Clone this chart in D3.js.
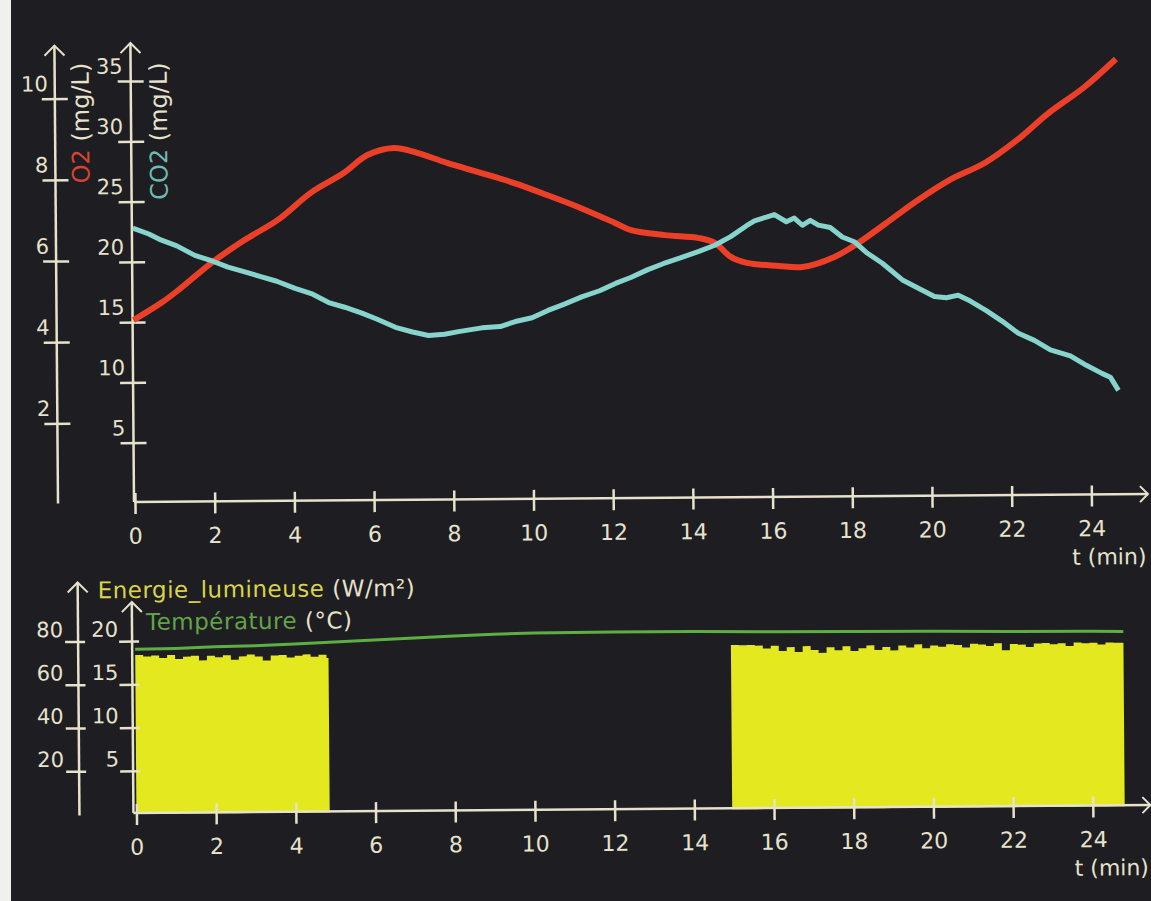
<!DOCTYPE html>
<html>
<head>
<meta charset="utf-8">
<script src="https://cdn.jsdelivr.net/npm/d3@7"></script>
<style>
  body { margin: 0; background: #1e1d22; }
  svg { display: block; }
</style>
</head>
<body>
<div id="canvas"></div>
<script>
"use strict"

/* Data */
let timeTicks = [0, 2, 4, 6, 8, 10, 12, 14, 16, 18, 20, 22, 24];
let o2Ticks = [2, 4, 6, 8, 10];
let co2Ticks = [5, 10, 15, 20, 25, 30, 35];
let lightTicks = [20, 40, 60, 80];
let tempTicks = [5, 10, 15, 20];

let o2Time = [0, 0.7, 1.13, 1.96, 2.8, 3.64, 4.47, 5.3, 5.9, 6.57, 7.07, 7.9, 8.74, 9.58, 10.4, 11.25, 12.1, 12.5, 13.35, 14.2, 14.6, 15.0, 15.4, 16.2, 16.8, 17.6, 18.2, 18.9, 19.7, 20.5, 21.4, 22.2, 23.0, 23.9, 24.7];
let o2Values = [4.53, 4.95, 5.26, 5.92, 6.48, 6.97, 7.63, 8.11, 8.55, 8.72, 8.62, 8.34, 8.09, 7.83, 7.53, 7.20, 6.83, 6.65, 6.52, 6.44, 6.32, 5.97, 5.82, 5.74, 5.71, 5.95, 6.29, 6.77, 7.33, 7.82, 8.24, 8.79, 9.45, 10.08, 10.77];

let co2Time = [0, 0.4, 0.7, 1.1, 1.55, 2.0, 2.38, 2.8, 3.2, 3.6, 4.06, 4.5, 4.9, 5.3, 5.73, 6.1, 6.57, 7.0, 7.4, 7.8, 8.15, 8.74, 9.2, 9.58, 10.0, 10.4, 10.8, 11.25, 11.7, 12.1, 12.5, 12.9, 13.3, 13.75, 14.2, 14.6, 15.0, 15.4, 15.6, 15.9, 16.1, 16.4, 16.6, 16.8, 17.0, 17.2, 17.5, 17.8, 18.1, 18.4, 18.8, 19.3, 19.7, 20.1, 20.4, 20.7, 21.0, 21.4, 21.8, 22.2, 22.6, 23.0, 23.5, 23.9, 24.3, 24.5, 24.7];
let co2Values = [22.8, 22.3, 21.8, 21.3, 20.5, 20.0, 19.5, 19.1, 18.7, 18.3, 17.7, 17.2, 16.5, 16.1, 15.6, 15.1, 14.4, 14.0, 13.7, 13.8, 14.0, 14.3, 14.4, 14.8, 15.1, 15.7, 16.2, 16.8, 17.3, 17.9, 18.4, 19.0, 19.5, 20.0, 20.5, 21.0, 21.7, 22.6, 23.0, 23.3, 23.5, 22.9, 23.2, 22.6, 23.0, 22.6, 22.4, 21.6, 21.2, 20.3, 19.4, 18.0, 17.3, 16.6, 16.5, 16.7, 16.2, 15.4, 14.5, 13.5, 12.9, 12.1, 11.6, 10.8, 10.1, 9.8, 8.7];

let lightTime = [0, 0.2, 0.4, 0.6, 0.8, 1, 1.2, 1.4, 1.6, 1.8, 2, 2.2, 2.4, 2.6, 2.8, 3, 3.2, 3.4, 3.6, 3.8, 4, 4.2, 4.4, 4.6, 4.8, 4.85,
    14.95, 15.15, 15.35, 15.55, 15.75, 15.95, 16.15, 16.35, 16.55, 16.75, 16.95, 17.15, 17.35, 17.55, 17.75, 17.95, 18.15, 18.35, 18.55, 18.75,
    18.95, 19.15, 19.35, 19.55, 19.75, 19.95, 20.15, 20.35, 20.55, 20.75, 20.95, 21.15, 21.35, 21.55, 21.75, 21.95, 22.15, 22.35, 22.55, 22.75,
    22.95, 23.15, 23.35, 23.55, 23.75, 23.95, 24.15, 24.35, 24.55, 24.8];
let lightValues = [73.5, 72.8, 73.2, 72.0, 73.4, 71.5, 72.6, 73.0, 70.8, 72.9, 72.2, 73.1, 71.0, 72.5, 73.3, 72.4, 70.5, 72.8, 73.0, 71.8, 72.6, 73.2, 72.1, 73.0, 71.4, 0,
    76.0, 75.8, 75.9, 75.6, 74.2, 75.5, 73.0, 74.8, 72.5, 75.2, 73.4, 72.0, 74.6, 73.2, 75.0, 72.8, 74.0, 75.3, 73.1, 74.5,
    72.9, 75.1, 74.2, 75.6, 73.8, 75.0, 74.4, 75.5, 75.2, 74.0, 75.7, 75.3, 74.6, 75.8, 72.6, 75.4, 75.1, 74.0, 75.6, 75.8,
    75.2, 75.6, 74.3, 75.9, 75.5, 75.7, 74.9, 75.8, 75.6, 0];

let tempTime = [0, 1, 2, 3, 4, 5, 6, 7, 8, 9, 10, 12, 14, 16, 18, 20, 22, 24, 24.8];
let tempValues = [19.05, 19.1, 19.25, 19.35, 19.5, 19.7, 19.9, 20.1, 20.3, 20.45, 20.55, 20.6, 20.6, 20.5, 20.45, 20.4, 20.3, 20.25, 20.2];

/* Drawing config */
let svgWidth = 1151;
let svgHeight = 901;
let axisColor = "#e6e2cc";
let font = "DejaVu Sans";

let svg = d3.select("#canvas")
    .append("svg")
    .attr("width", svgWidth)
    .attr("height", svgHeight);

svg.append("rect")
    .attr("width", svgWidth)
    .attr("height", svgHeight)
    .attr("fill", "#1e1d22");

// white paper edge on the left
svg.append("rect")
    .attr("width", 11)
    .attr("height", svgHeight)
    .attr("fill", "#f0f0ee");

// the photographed screen is slightly tilted
let plot = svg.append("g").attr("transform", "rotate(-0.45,135,502)");

/* Scales */
let xTop = d3.scaleLinear().domain([0, 24]).range([135, 1091.4]);
let o2Scale = d3.scaleLinear().domain([0, 10]).range([504, 98]);
let co2Scale = d3.scaleLinear().domain([0, 35]).range([503, 81]);

let xBottom = d3.scaleLinear().domain([0, 24]).range([134, 1090.4]);
let lightScale = d3.scaleLinear().domain([0, 80]).range([814, 641]);
let tempScale = d3.scaleLinear().domain([0, 20]).range([814, 641]);

/* Helpers */
function line(x1, y1, x2, y2) {
    return plot.append("line")
        .attr("x1", x1).attr("y1", y1).attr("x2", x2).attr("y2", y2)
        .attr("stroke", axisColor)
        .attr("stroke-width", 2.5);
}

function upArrow(x, y) {
    plot.append("path")
        .attr("d", `M${x - 10},${y + 10}L${x},${y}L${x + 10},${y + 10}`)
        .attr("fill", "none")
        .attr("stroke", axisColor)
        .attr("stroke-width", 2);
}

function timeAxis(scale, y, xStart) {
    let axis = plot.append("g")
        .attr("transform", `translate(0,${y})`)
        .call(d3.axisBottom(scale).tickValues(timeTicks).tickSize(12).tickPadding(14));
    axis.select(".domain").remove();
    axis.selectAll(".tick line")
        .attr("y1", -9)
        .attr("stroke", axisColor)
        .attr("stroke-width", 2.5);
    axis.selectAll(".tick text")
        .attr("fill", axisColor)
        .attr("font-size", 22)
        .attr("font-family", font);

    line(xStart, y, 1148, y);
    plot.append("path")
        .attr("d", `M1140,${y - 8}L1148,${y}L1140,${y + 8}`)
        .attr("fill", "none")
        .attr("stroke", axisColor)
        .attr("stroke-width", 2);
    plot.append("text")
        .attr("x", 1146)
        .attr("y", y + 70)
        .attr("text-anchor", "end")
        .attr("fill", axisColor)
        .attr("font-size", 22)
        .attr("font-family", font)
        .text("t (min)");
}

function valueAxis(scale, ticks, x, top, bottom, tickLeft, tickRight, labelX, labelDy, fontSize) {
    line(x, top, x, bottom);
    upArrow(x, top);
    let axis = plot.append("g")
        .attr("transform", `translate(${x},0)`)
        .call(d3.axisLeft(scale).tickValues(ticks).tickSize(tickLeft));
    axis.select(".domain").remove();
    axis.selectAll(".tick line")
        .attr("x1", tickRight)
        .attr("stroke", axisColor)
        .attr("stroke-width", 2.5);
    axis.selectAll(".tick text")
        .attr("x", labelX)
        .attr("dy", labelDy)
        .attr("fill", axisColor)
        .attr("font-size", fontSize)
        .attr("font-family", font);
}

function rotatedTitle(x, y, name, color) {
    let t = plot.append("text")
        .attr("transform", `translate(${x},${y}) rotate(-90)`)
        .attr("font-size", 24)
        .attr("font-family", font);
    t.append("tspan").attr("fill", color).text(name);
    t.append("tspan").attr("fill", axisColor).text(" (mg/L)");
}

/**** Top chart: O2 and CO2 ****/
valueAxis(o2Scale, o2Ticks, 58, 45, 503, 13, 13, -7, -8, 21);
valueAxis(co2Scale, co2Ticks, 134, 43, 502, 13, 13, -8, -8, 21);
rotatedTitle(92, 183, "O2", "#d8442e");
rotatedTitle(170, 200, "CO2", "#6fbab2");
timeAxis(xTop, 502, 134);

let o2Line = d3.line()
    .x(d => xTop(d[0]))
    .y(d => o2Scale(d[1]))
    .curve(d3.curveCatmullRom);

let co2Line = d3.line()
    .x(d => xTop(d[0]))
    .y(d => co2Scale(d[1]));

plot.append("path")
    .datum(d3.zip(o2Time, o2Values))
    .attr("d", o2Line)
    .attr("fill", "none")
    .attr("stroke", "#ec3f27")
    .attr("stroke-width", 6)
    .attr("stroke-linejoin", "round");

plot.append("path")
    .datum(d3.zip(co2Time, co2Values))
    .attr("d", co2Line)
    .attr("fill", "none")
    .attr("stroke", "#86d4cc")
    .attr("stroke-width", 5)
    .attr("stroke-linejoin", "round");

/**** Bottom chart: light and temperature ****/
let lightArea = d3.area()
    .x(d => xBottom(d[0]))
    .y0(lightScale(0))
    .y1(d => lightScale(d[1]))
    .curve(d3.curveStepAfter);

plot.append("path")
    .datum(d3.zip(lightTime, lightValues))
    .attr("d", lightArea)
    .attr("fill", "#e3e91e");

let tempLine = d3.line()
    .x(d => xBottom(d[0]))
    .y(d => tempScale(d[1]));

plot.append("path")
    .datum(d3.zip(tempTime, tempValues))
    .attr("d", tempLine)
    .attr("fill", "none")
    .attr("stroke", "#5cb043")
    .attr("stroke-width", 3);

valueAxis(lightScale, lightTicks, 77, 582, 815, 13, 7, -15, -5, 21);
valueAxis(tempScale, tempTicks, 131, 602, 813, 13, 7, -14, -5, 21);
timeAxis(xBottom, 813, 131);

let lightTitle = plot.append("text")
    .attr("x", 97)
    .attr("y", 598)
    .attr("font-size", 23)
    .attr("letter-spacing", 0.5)
    .attr("font-family", font);
lightTitle.append("tspan").attr("fill", "#d9d448").text("Energie_lumineuse");
lightTitle.append("tspan").attr("fill", axisColor).text(" (W/m²)");

let tempTitle = plot.append("text")
    .attr("x", 145)
    .attr("y", 630)
    .attr("font-size", 23)
    .attr("letter-spacing", 0.5)
    .attr("font-family", font);
tempTitle.append("tspan").attr("fill", "#62a448").text("Température");
tempTitle.append("tspan").attr("fill", axisColor).text(" (°C)");
</script>
</body>
</html>
